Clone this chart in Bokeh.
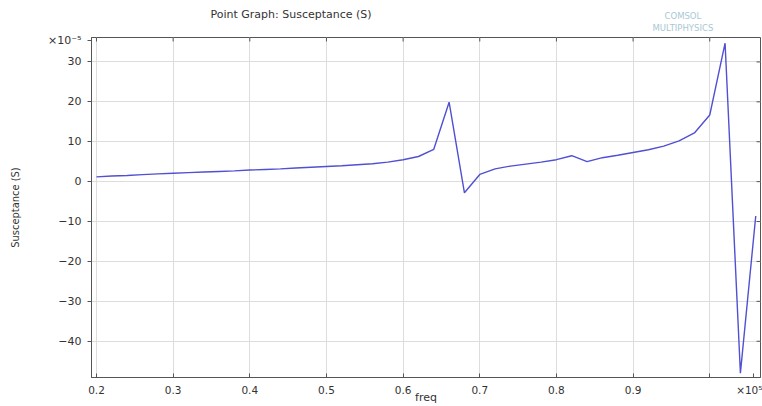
from bokeh.plotting import figure
from bokeh.models import Range1d, FixedTicker, LinearAxis
from bokeh.embed import file_html
from bokeh.resources import INLINE

# Data (freq in units of 1e5, susceptance in units of 1e-5 S)
freq = [0.20, 0.22, 0.24, 0.26, 0.28, 0.30, 0.32, 0.34, 0.36, 0.38,
        0.40, 0.42, 0.44, 0.46, 0.48, 0.50, 0.52, 0.54, 0.56, 0.58,
        0.60, 0.62, 0.64, 0.66, 0.68, 0.70, 0.72, 0.74, 0.76, 0.78,
        0.80, 0.82, 0.84, 0.86, 0.88, 0.90, 0.92, 0.94, 0.96, 0.98,
        1.00, 1.02, 1.04, 1.06]
susceptance = [1.2, 1.4, 1.55, 1.75, 1.95, 2.1, 2.25, 2.4, 2.55, 2.7,
               2.9, 3.05, 3.2, 3.4, 3.6, 3.8, 4.0, 4.25, 4.5, 4.9,
               5.5, 6.3, 8.1, 19.9, -2.8, 1.8, 3.2, 3.9, 4.4, 4.9,
               5.5, 6.5, 5.0, 6.0, 6.6, 7.3, 8.0, 8.9, 10.2, 12.2,
               16.7, 34.7, -48.0, -8.6]
x_ticks = [0.2, 0.3, 0.4, 0.5, 0.6, 0.7, 0.8, 0.9, 1.0]
y_ticks = [-40, -30, -20, -10, 0, 10, 20, 30]
x_exp_pos, x_exp_text = 1.0570, "×10⁵"
y_exp_pos, y_exp_text = 35.4, "×10⁻⁵"
logo_pos, logo_text = 0.965, "COMSOL\nMULTIPHYSICS"

X0, X1 = 0.1935, 1.0662
Y0, Y1 = -49.08, 36.12

FONT = "DejaVu Sans"
TXT = "#333333"
AX = "#555555"

p = figure(width=762, height=406, output_backend="svg", toolbar_location=None,
           x_range=Range1d(X0, X1), y_range=Range1d(Y0, Y1),
           min_border_left=91, min_border_right=2, min_border_top=37,
           min_border_bottom=27)

p.background_fill_color = "white"
p.border_fill_color = "white"
p.outline_line_color = AX
p.outline_line_width = 1

# Title
p.title.text = "Point Graph: Susceptance (S)"
p.title.text_font = FONT
p.title.text_font_size = "11px"
p.title.text_font_style = "normal"
p.title.text_color = TXT
p.title.align = "left"
p.title.offset = 119
p.title.standoff = -26

# Bottom axis (the exponent sits on the axis as its last label)
xa = p.xaxis[0]
xa.ticker = FixedTicker(ticks=x_ticks + [x_exp_pos])
xa.major_label_overrides = {1.0: " ", x_exp_pos: x_exp_text}
xa.axis_label = "freq"
xa.axis_label_text_font = FONT
xa.axis_label_text_font_size = "11px"
xa.axis_label_text_font_style = "normal"
xa.axis_label_text_color = TXT
xa.axis_label_standoff = -8
xa.major_label_text_font = FONT
xa.major_label_text_font_size = "10.5px"
xa.major_label_text_color = TXT
xa.major_label_standoff = 6
xa.major_tick_in = 4
xa.major_tick_out = 0
xa.minor_tick_line_color = None
xa.axis_line_color = AX
xa.major_tick_line_color = AX

# Left axis (the exponent sits on the axis as its top label)
ya = p.yaxis[0]
ya.ticker = FixedTicker(ticks=y_ticks + [y_exp_pos])
ya.major_label_overrides = {y_exp_pos: y_exp_text}
ya.axis_label = "Susceptance (S)"
ya.axis_label_text_font = "DejaVu Sans Condensed, Liberation Sans Narrow, DejaVu Sans"
ya.axis_label_text_font_size = "11px"
ya.axis_label_text_font_style = "normal"
ya.axis_label_text_color = TXT
ya.axis_label_standoff = 23
ya.major_label_text_font = FONT
ya.major_label_text_font_size = "11px"
ya.major_label_text_color = TXT
ya.major_label_standoff = 6
ya.major_tick_in = 0
ya.major_tick_out = 4
ya.minor_tick_line_color = None
ya.axis_line_color = AX
ya.major_tick_line_color = AX

# Logo text above the frame, carried by a bare top axis
logo = LinearAxis(ticker=FixedTicker(ticks=[logo_pos]),
                  major_label_overrides={logo_pos: logo_text},
                  major_label_text_font=FONT, major_label_text_font_size="8.5px",
                  major_label_text_color="#a9c8d4", major_label_standoff=5,
                  major_tick_in=0, major_tick_out=0, axis_line_color=None,
                  major_tick_line_color=None, minor_tick_line_color=None)
p.add_layout(logo, "above")

# Grid
p.xgrid.ticker = FixedTicker(ticks=x_ticks)
p.ygrid.ticker = FixedTicker(ticks=y_ticks)
p.grid.grid_line_color = "#dddddd"
p.grid.grid_line_width = 1

# Tick marks on top and right frame edges (from the tick lists)
tick_dx = (X1 - X0) * 4 / 669
tick_dy = (Y1 - Y0) * 4 / 342
p.segment(x0=x_ticks, y0=[Y1] * len(x_ticks), x1=x_ticks, y1=[Y1 - tick_dy] * len(x_ticks),
          line_color=AX, line_width=1)
p.segment(x0=[X1] * len(y_ticks), y0=y_ticks, x1=[X1 - tick_dx] * len(y_ticks), y1=y_ticks,
          line_color=AX, line_width=1)

# Data line
p.line(freq, susceptance, line_color="#5050d2", line_width=1.4)

open("out.html", "w").write(file_html(p, INLINE))
